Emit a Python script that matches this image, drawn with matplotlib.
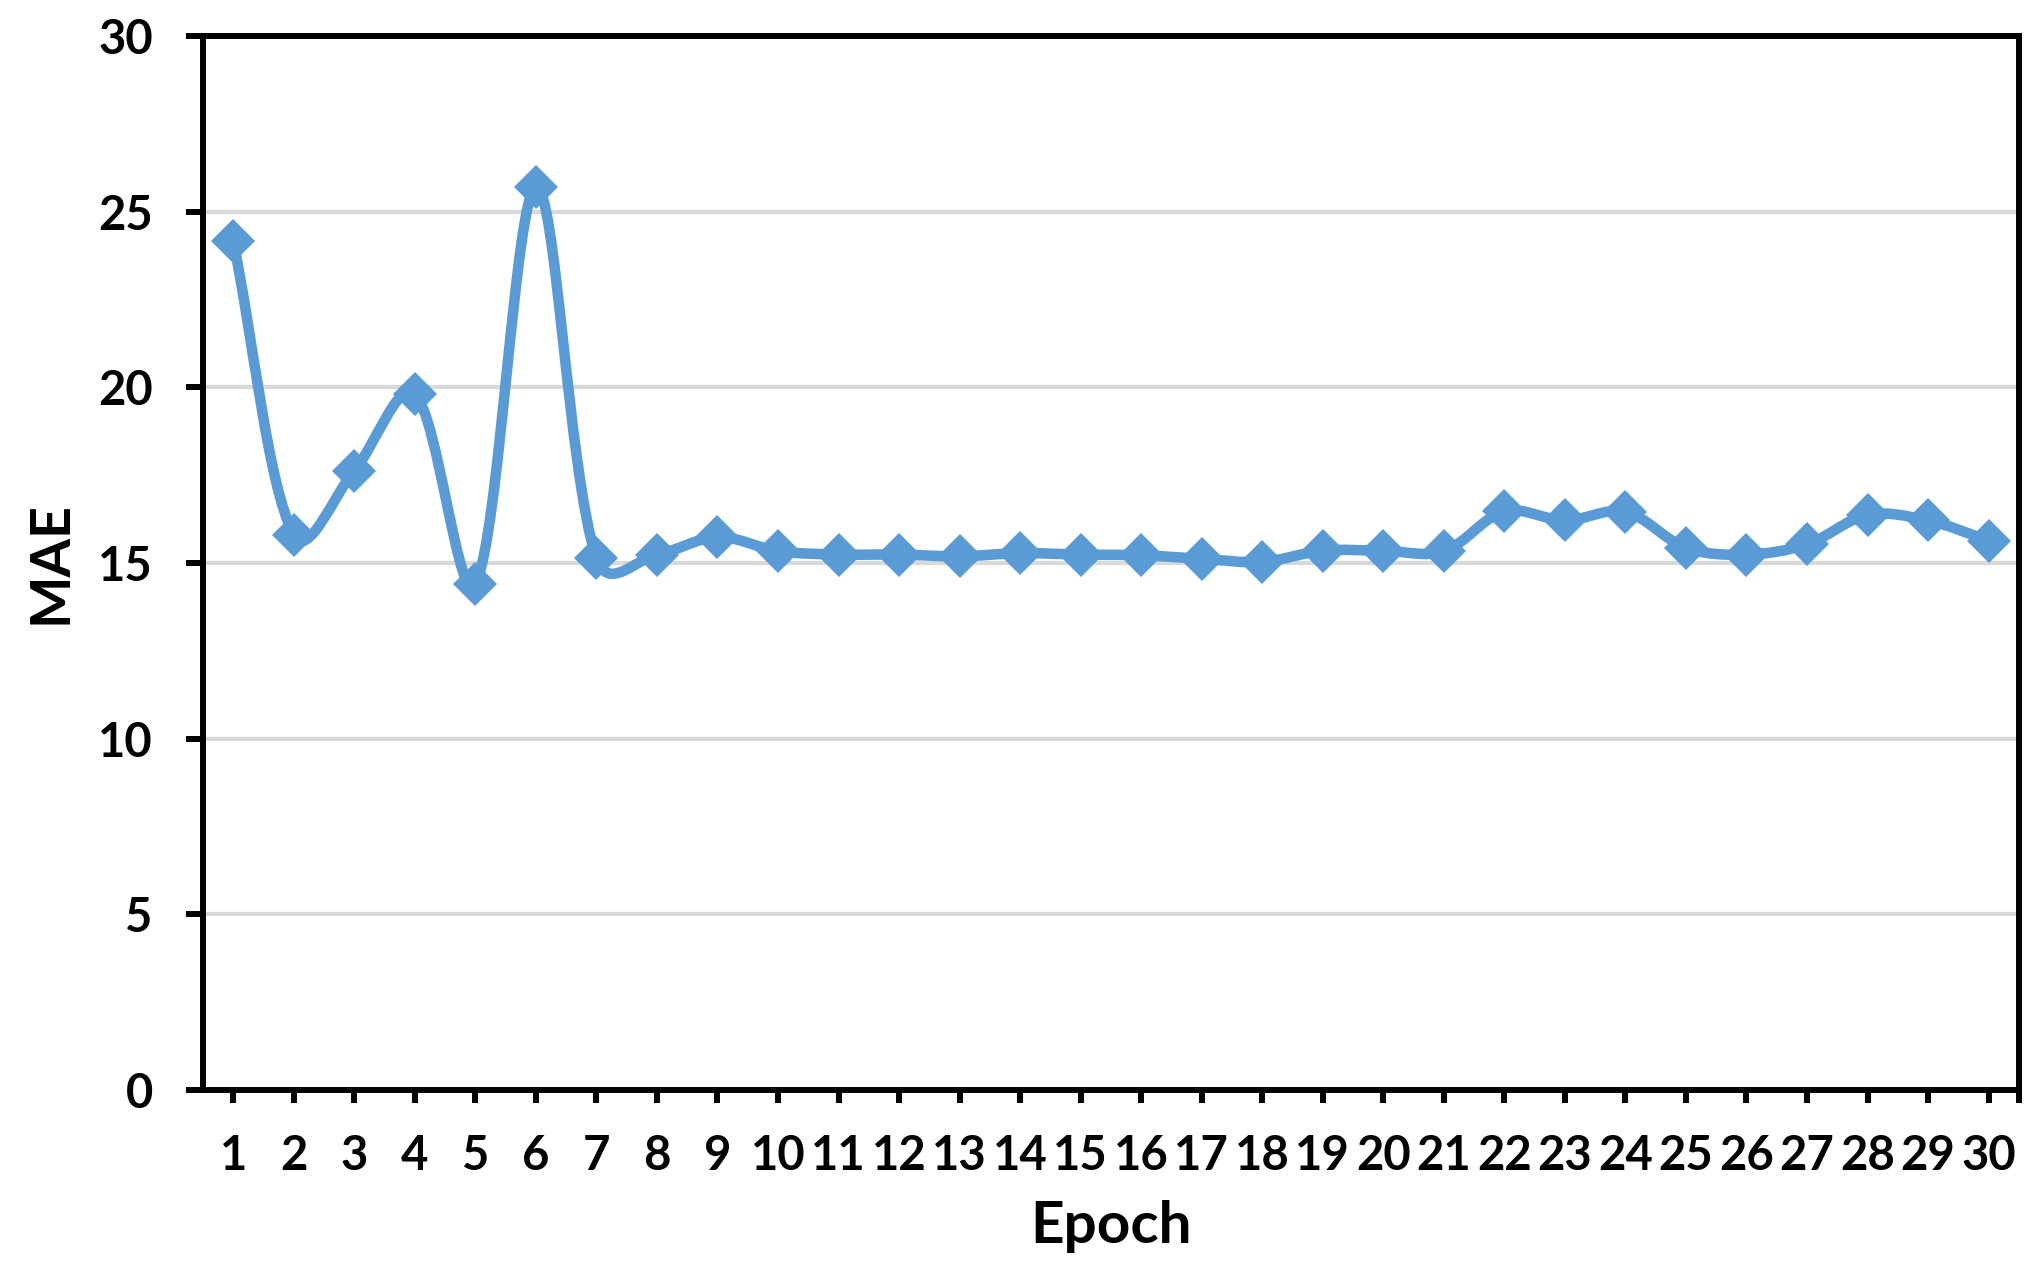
import matplotlib
matplotlib.use("Agg")
import matplotlib.pyplot as plt
from matplotlib.path import Path
from matplotlib.patches import PathPatch
import numpy as np

epochs = list(range(1, 31))
mae = [24.16, 15.80, 17.63, 19.81, 14.41, 25.69, 15.13, 15.24, 15.74, 15.34,
       15.24, 15.24, 15.19, 15.28, 15.24, 15.22, 15.12, 15.03, 15.35, 15.35,
       15.33, 16.47, 16.21, 16.46, 15.43, 15.24, 15.53, 16.37, 16.21, 15.64]
y_ticks = [0, 5, 10, 15, 20, 25, 30]

LINE = "#5B9BD5"
GRID = "#D9D9D9"
FONT = "Lato"

plt.rcParams['font.family'] = [FONT, 'DejaVu Sans']

fig = plt.figure(figsize=(20.38, 12.71), dpi=100)
ax = fig.add_axes([0.0996, 0.1424, 0.8910, 0.8293])
ax.set_xlim(0.5, 30.5)
ax.set_ylim(0, 30)

# smoothed line (Bezier with centripetal-weighted tangents, in display space)
disp = ax.transData.transform(np.column_stack([epochs, mae]))
n = len(disp)
verts = [tuple(disp[0])]
codes = [Path.MOVETO]
ALPHA = 0.5

def tangent_ctrl(i, toward_next):
    p_prev = disp[i - 1] if i > 0 else disp[i]
    p_next = disp[i + 1] if i + 1 < n else disp[i]
    d_prev = np.hypot(*(disp[i] - p_prev)) ** ALPHA
    d_next = np.hypot(*(p_next - disp[i])) ** ALPHA
    tot = d_prev + d_next
    if tot == 0:
        return disp[i]
    if toward_next:
        return disp[i] + (p_next - p_prev) * (d_next / tot) / 3.0
    return disp[i] - (p_next - p_prev) * (d_prev / tot) / 3.0

for i in range(n - 1):
    c1 = tangent_ctrl(i, True)
    c2 = tangent_ctrl(i + 1, False)
    verts += [tuple(c1), tuple(c2), tuple(disp[i + 1])]
    codes += [Path.CURVE4, Path.CURVE4, Path.CURVE4]
data_verts = ax.transData.inverted().transform(np.array(verts))
patch = PathPatch(Path(data_verts, codes), facecolor='none', edgecolor=LINE,
                  lw=7.6, capstyle='round', joinstyle='round', zorder=3)
ax.add_patch(patch)
ax.plot(epochs, mae, linestyle='none', marker='D', markersize=22,
        color=LINE, markeredgewidth=0, zorder=4, clip_on=False)

ax.set_xticks(epochs)
ax.set_xticklabels([str(e) for e in epochs])
ax.set_xticks([30.5], minor=True)
ax.set_yticks(y_ticks)
ax.set_yticklabels([str(v) for v in y_ticks])

ax.grid(axis='y', color=GRID, linewidth=3.1, zorder=0)
ax.set_axisbelow(True)

for s in ax.spines.values():
    s.set_linewidth(4.3)
    s.set_color('black')

ax.tick_params(axis='y', which='major', length=12.2, width=4.3, pad=24,
               labelsize=34, direction='out')
ax.tick_params(axis='x', which='both', length=9.4, width=4.3, pad=22,
               labelsize=34, direction='out')
for lab in ax.get_xticklabels() + ax.get_yticklabels():
    lab.set_fontweight('bold')

ax.set_xlabel("Epoch", fontsize=42, fontweight='bold')
ax.set_ylabel("MAE", fontsize=40, fontweight='bold')
ax.xaxis.set_label_coords(0.5, -0.104)
ax.yaxis.set_label_coords(-0.070, 0.5)

fig.savefig("out.png", dpi=100)
